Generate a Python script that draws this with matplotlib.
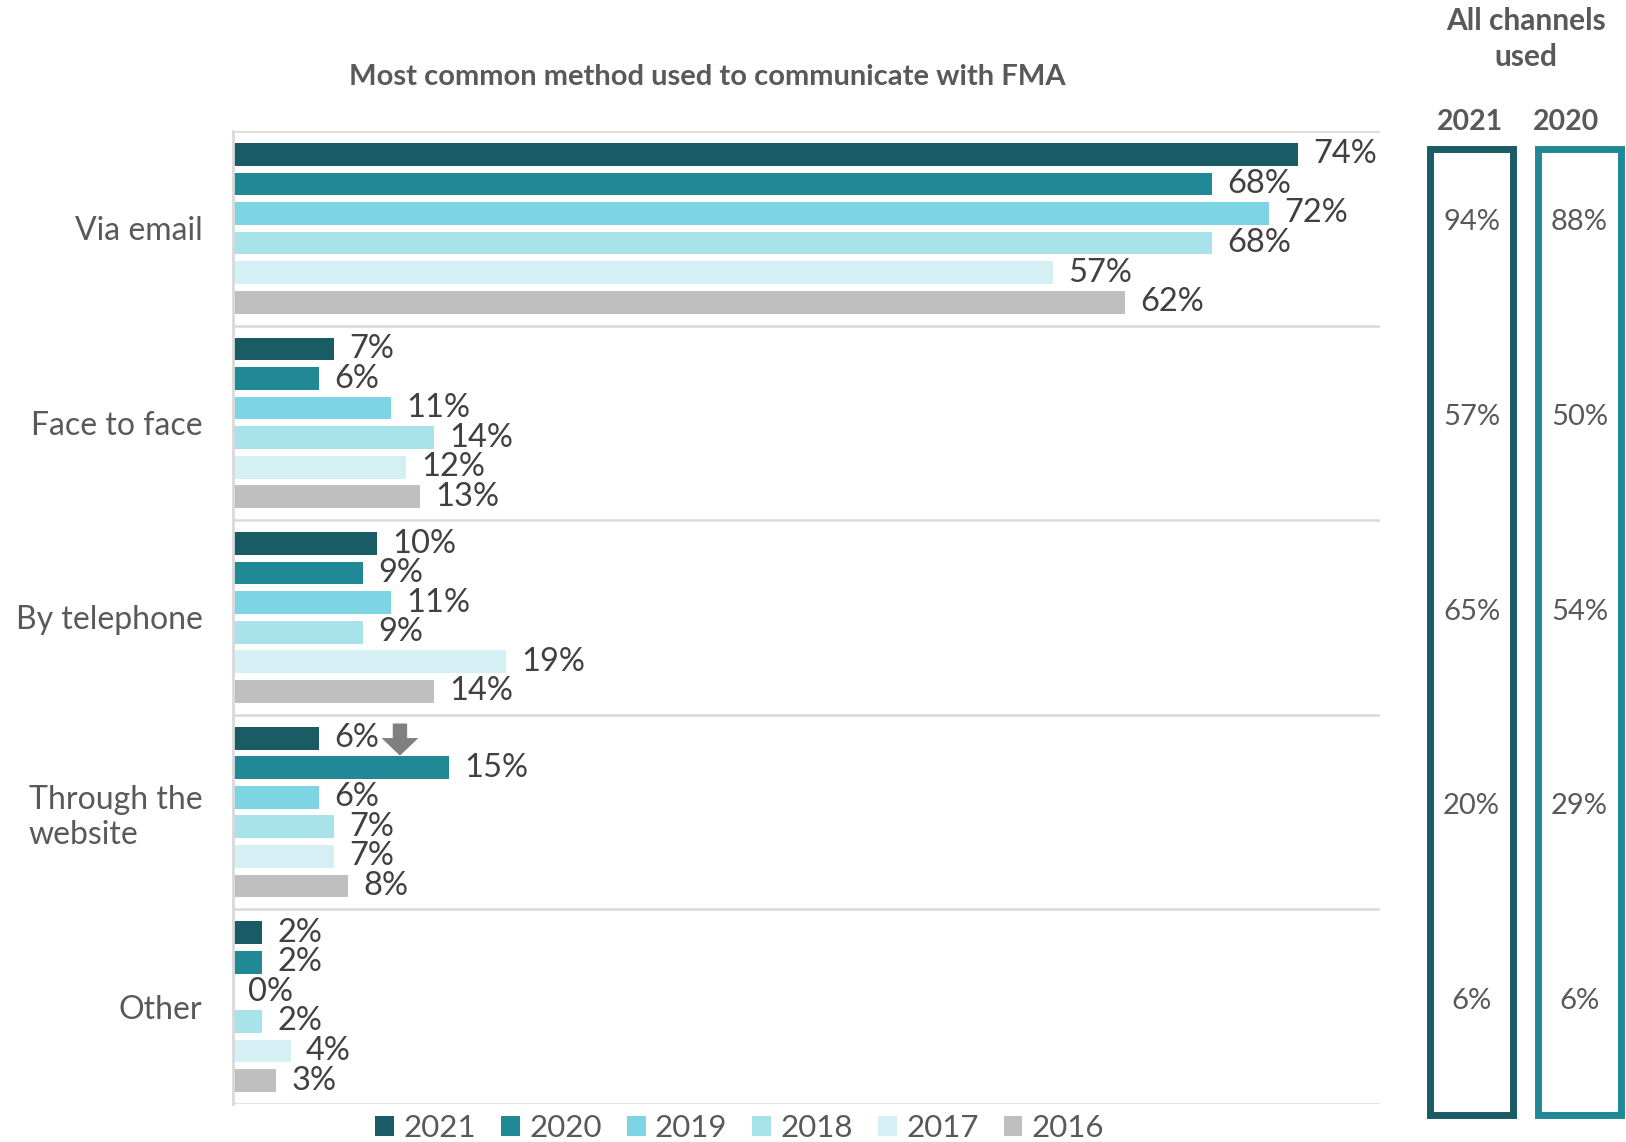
import numpy as np
import matplotlib.pyplot as plt
from matplotlib.patches import Rectangle
from matplotlib.transforms import blended_transform_factory

plt.rcParams['font.family'] = ['Lato', 'DejaVu Sans']

categories = ['Via email', 'Face to face', 'By telephone', 'Through the\nwebsite', 'Other']
years = ['2021', '2020', '2019', '2018', '2017', '2016']
colors = ['#1a5c66', '#218896', '#7dd4e3', '#a8e2eb', '#d4f0f4', '#bfbfbf']

# share per year, one list per category row
via_email = [74, 68, 72, 68, 57, 62]
face_to_face = [7, 6, 11, 14, 12, 13]
by_telephone = [10, 9, 11, 9, 19, 14]
website = [6, 15, 6, 7, 7, 8]
other = [2, 2, 0, 2, 4, 3]
values = np.array([via_email, face_to_face, by_telephone, website, other])

# all channels used, side panel
all_channels_2021 = [94, 57, 65, 20, 6]
all_channels_2020 = [88, 50, 54, 29, 6]

text_grey = '#595959'
label_grey = '#404040'

fig = plt.figure(figsize=(16.26, 11.42), dpi=100)
ax = fig.add_axes([0.1433, 0.0333, 0.7054, 0.852])

pitch = 0.152
bar_h = 0.117
offsets = (np.arange(len(years)) - (len(years) - 1) / 2) * pitch
centres = np.arange(len(categories)) + 0.5

for j, yr in enumerate(years):
    ys = centres + offsets[j]
    ax.barh(ys, values[:, j], height=bar_h, color=colors[j], label=yr)
    for y, v in zip(ys, values[:, j]):
        ax.annotate(f'{v}%', (v, y), xytext=(11, 0), textcoords='offset points',
                    ha='left', va='center', fontsize=23.5, color=label_grey)

ax.set_xlim(0, 79.7)
ax.set_ylim(len(categories), 0)
ax.set_xticks([])
ax.set_yticks(centres)
ticklabels = ax.set_yticklabels(categories, fontsize=23, color=text_grey)
for t in ticklabels:
    t.set_multialignment('left')
ax.tick_params(axis='y', length=0, pad=22)

for s in ['top', 'right', 'bottom']:
    ax.spines[s].set_visible(False)
ax.spines['left'].set_color('#d9d9d9')
ax.spines['left'].set_linewidth(2)
for k in range(len(categories) + 1):
    ax.axhline(k, color='#d9d9d9', lw=1.8, zorder=0)

# arrow flagging the 2020 website value
ax.annotate('', xy=(11.6, 3.21), xytext=(11.6, 3.045),
            arrowprops=dict(arrowstyle='simple,head_length=0.55,head_width=1.15,tail_width=0.45',
                            color='#7f7f7f', lw=0, mutation_scale=23,
                            shrinkA=0, shrinkB=0))

fig.text(0.435, 0.933, 'Most common method used to communicate with FMA',
         ha='center', va='center', fontsize=21, fontweight='bold', color=text_grey)

ax.legend(loc='center', bbox_to_anchor=(0.455, 0.012), bbox_transform=fig.transFigure,
          ncol=6, frameon=False, fontsize=22.5, handlelength=0.6, handleheight=0.6,
          handletextpad=0.3, columnspacing=0.8, labelcolor=text_grey)

# side panel with all channels used
fig.text(0.9387, 0.966, 'All channels\nused', ha='center', va='center',
         fontsize=21.5, fontweight='bold', color=text_grey, linespacing=1.35)
panel = [('2021', all_channels_2021, 0.8795, 0.904, '#1a5c66'),
         ('2020', all_channels_2020, 0.9459, 0.963, '#218896')]
trans = blended_transform_factory(fig.transFigure, ax.transData)
for yr, vals, x0, head_x, col in panel:
    w = 0.051
    fig.patches.append(Rectangle((x0, 0.0236), w, 0.8459, transform=fig.transFigure,
                                 fill=False, edgecolor=col, lw=5))
    fig.text(head_x, 0.8935, yr, ha='center', va='center', fontsize=20.5,
             fontweight='bold', color=text_grey)
    for c, v in zip(centres, vals):
        fig.text(x0 + w / 2, c - 0.03, f'{v}%', transform=trans, ha='center', va='center',
                 fontsize=21, color=text_grey)

fig.savefig('out.png', dpi=100)
